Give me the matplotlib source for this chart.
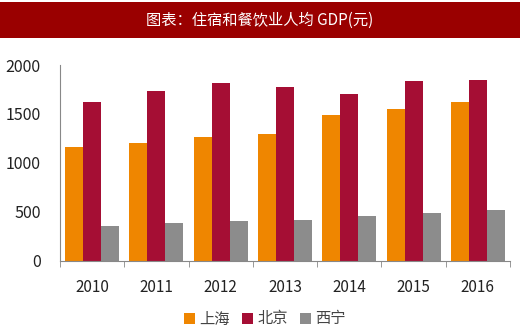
import matplotlib.pyplot as plt
import numpy as np
from matplotlib.patches import Rectangle

plt.rcParams['font.family'] = ['Noto Sans CJK SC', 'DejaVu Sans']

years = ['2010', '2011', '2012', '2013', '2014', '2015', '2016']
shanghai = [1165, 1200, 1261, 1292, 1486, 1553, 1619]
beijing = [1619, 1734, 1813, 1775, 1700, 1840, 1843]
xining = [358, 385, 402, 419, 454, 484, 515]

names = ['上海', '北京', '西宁']
colors = ['#EF8600', '#A50E34', '#8C8C8C']

fig = plt.figure(figsize=(5.2, 3.29), dpi=100)

# title banner
fig.patches.append(Rectangle((0, 1 - 38 / 329), 1, 36 / 329, transform=fig.transFigure,
                             facecolor='#9A0000', edgecolor='none', zorder=0))
fig.text(0.5, 1 - 20 / 329, '图表：住宿和餐饮业人均 GDP(元)', color='white',
         ha='center', va='center', fontsize=11)

ax = fig.add_axes([60 / 520, 1 - 260.7 / 329, 450 / 520, 195.7 / 329])
x = np.arange(len(years))
w = 0.28
for i, (vals, name, c) in enumerate(zip([shanghai, beijing, xining], names, colors)):
    ax.bar(x + (i - 1) * w, vals, width=w, color=c, label=name)

ax.set_xlim(-0.5, len(years) - 0.5)
ax.set_ylim(0, 2000)
ax.set_yticks([0, 500, 1000, 1500, 2000])
ax.tick_params(axis='y', length=0, labelsize=11.5, pad=14, colors='#222222')
ax.set_xticks(x)
ax.set_xticklabels(years)
ax.set_xticks(np.arange(-0.5, len(years)), minor=True)
ax.tick_params(axis='x', which='major', length=0, labelsize=11, pad=13, colors='#222222')
ax.tick_params(axis='x', which='minor', length=4, color='#888888', direction='out')
for s in ['top', 'right']:
    ax.spines[s].set_visible(False)
ax.spines['left'].set_color('#888888')
ax.spines['bottom'].set_color('#888888')

ax.legend(loc='center', bbox_to_anchor=(265 / 520, 1 - 319 / 329), bbox_transform=fig.transFigure,
          ncol=3, frameon=False, fontsize=11, handlelength=0.7, handleheight=0.7,
          handletextpad=0.3, columnspacing=0.8, labelcolor='#444444')

fig.savefig('out.png', dpi=100)
